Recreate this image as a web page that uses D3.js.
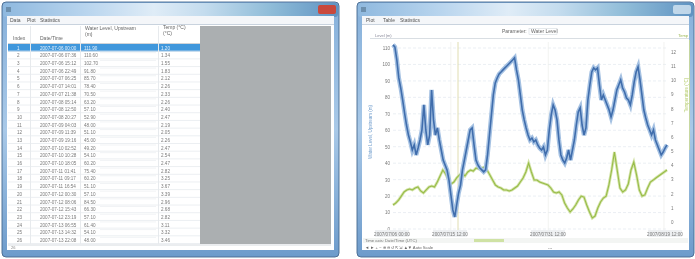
<!DOCTYPE html>
<html><head><meta charset="utf-8">
<script src="https://cdn.jsdelivr.net/npm/d3@7"></script>
<style>html,body{margin:0;padding:0;background:#fff;overflow:hidden}text{font-family:"Liberation Sans",Arial,sans-serif}</style>
</head><body><svg id="c" width="695" height="259"></svg>
<script>
// ---------- data ----------
const levelValues = [111.9,110.6,102.7,91.8,85.7,78.4,70.5,63.2,57.1,52.9,48.0,51.1,45.0,49.2,54.1,60.2,75.4,60.2,51.1,57.1,84.5,66.3,57.1,61.4,54.1,48.0,41.9,38.9,35.9,29.8,20.7,11.6,7.3,14.6,21.9,26.7,35.9,41.9,48.0,54.1,60.2,61.4,51.1,41.9,38.9,37.1,35.9,34.7,35.9,45.0,57.1,69.3,81.5,88.8,91.8,94.2,95.4,96.7,97.9,99.1,100.3,101.5,102.7,104.0,96.7,90.6,81.5,72.3,66.3,61.4,57.1,54.1,55.3,52.9,54.1,51.1,49.2,48.0,49.8,45.0,48.0,60.2,69.3,75.4,72.3,66.3,54.1,45.0,41.9,40.1,43.2,48.0,41.9,48.0,54.1,63.2,71.1,73.6,63.2,57.1,61.4,78.4,87.5,95.4,97.9,96.7,97.9,87.5,78.4,81.5,78.4,75.4,72.3,68.1,72.3,78.4,84.5,87.5,90.6,85.7,83.3,79.6,78.4,75.4,81.5,89.4,95.4,98.5,90.6,81.5,72.3,67.5,63.2,60.2,57.1,60.2,54.1,51.1,48.0,45.0,46.8,49.2,51.1];
const tempValues = [1.20,1.34,1.55,1.83,2.12,2.26,2.33,2.26,2.40,2.47,2.19,2.05,2.26,2.47,2.54,2.47,2.82,3.25,3.67,3.39,2.96,2.68,2.82,3.11,3.32,3.46,3.25,3.53,3.67,3.60,3.81,3.74,3.81,3.88,3.67,3.32,2.96,2.61,2.47,2.40,2.26,2.26,2.19,2.26,2.40,2.54,2.82,3.11,3.53,4.16,3.53,2.96,2.96,2.82,2.75,2.68,2.61,2.40,2.12,2.05,2.12,1.91,1.34,0.99,0.71,0.92,1.20,1.55,1.83,1.76,1.20,0.71,0.28,0.42,0.99,1.41,1.69,1.83,2.61,3.67,4.94,3.67,2.40,2.12,2.26,2.68,3.67,4.23,3.32,2.26,1.83,1.91,2.40,2.82,2.96,3.11,3.25,3.39,3.53,3.67];
const leftTicks = [0,10,20,30,40,50,60,70,80,90,100,110];
const rightTicks = [0,1,2,3,4,5,6,7,8,9,10,11,12];
const startTime = new Date(2007,6,6,0,0);
const endTime = new Date(2007,7,20,0,0);
const xTickTimes = [new Date(2007,6,6,0,0), new Date(2007,6,15,12,0), new Date(2007,6,31,12,0), new Date(2007,7,19,12,0)];
const tableRows = 26;
const leftTabs = ["Data","Plot","Statistics"];
const rightTabs = ["Plot","Table","Statistics"];

const svg = d3.select("#c");
const defs = svg.append("defs");
const blur = defs.append("filter").attr("id","bl").attr("x","-5%").attr("y","-5%").attr("width","110%").attr("height","110%");
blur.append("feGaussianBlur").attr("stdDeviation",0.6);
function lg(id, stops, x2, y2){const g=defs.append("linearGradient").attr("id",id).attr("x1",0).attr("y1",0).attr("x2",x2).attr("y2",y2);
 stops.forEach(s=>g.append("stop").attr("offset",s[0]).attr("stop-color",s[1]));}
lg("frame",[[0,"#8fb9df"],[0.25,"#b9d5ee"],[0.45,"#dfecf7"],[0.6,"#c4dcee"],[0.8,"#8fbcd8"],[1,"#5f93c2"]],1,0);
lg("frameV",[[0,"#86b0da"],[0.5,"#a9c9e8"],[1,"#6d9bcb"]],0,1);
const root = svg.append("g").attr("filter","url(#bl)");

const fmtT = d3.timeFormat("%Y-%m-%d %H:%M");
const dt = (endTime - startTime);
const tOf = (i,n)=> new Date(+startTime + dt*i/(n-1));

function windowFrame(x,y,w,h,active){
  const g=root.append("g");
  g.append("rect").attr("x",x).attr("y",y).attr("width",w).attr("height",h).attr("rx",4).attr("fill","url(#frameV)").attr("stroke","#46698f").attr("stroke-width",0.9);
  g.append("rect").attr("x",x+1).attr("y",y+1).attr("width",w-2).attr("height",14).attr("rx",3).attr("fill","url(#frame)");
  g.append("rect").attr("x",x+4).attr("y",y+5).attr("width",5).attr("height",5).attr("fill","#5d7e99").attr("opacity",0.7);
  if(active){g.append("rect").attr("x",x+w-21).attr("y",y+3).attr("width",18).attr("height",9).attr("rx",2).attr("fill","#c9493c");}
  else{g.append("rect").attr("x",x+w-21).attr("y",y+3).attr("width",18).attr("height",9).attr("rx",2).attr("fill","#d6e6f2").attr("opacity",0.8);}
  return g;
}

// ---------- left window (table) ----------
windowFrame(2,2,337,255,true);
root.append("rect").attr("x",7).attr("y",16).attr("width",327).attr("height",234).attr("fill","#fff");
root.append("rect").attr("x",7).attr("y",16).attr("width",327).attr("height",8).attr("fill","#f4f6f9");
leftTabs.forEach((t,i)=>root.append("text").attr("x",[10,27,40][i]).attr("y",22).attr("font-size",5).attr("fill","#555").text(t));
root.append("line").attr("x1",7).attr("x2",334).attr("y1",24.5).attr("y2",24.5).attr("stroke","#c9d3de");
root.append("rect").attr("x",200).attr("y",26).attr("width",131).attr("height",218).attr("fill","#abafb1");
root.append("line").attr("x1",8).attr("x2",331).attr("y1",245).attr("y2",245).attr("stroke","#d6dbe0");
root.append("text").attr("x",11).attr("y",249).attr("font-size",4).attr("fill","#888").text("26");
const hdr = root.append("g").attr("font-size",5).attr("fill","#666");
hdr.append("text").attr("x",13).attr("y",40).text("Index");
hdr.append("text").attr("x",40).attr("y",40).text("Date/Time");
hdr.append("text").attr("x",85).attr("y",30).text("Water Level, Upstream");
hdr.append("text").attr("x",85).attr("y",36).text("(m)");
hdr.append("text").attr("x",163).attr("y",29).text("Temp (°C)");
hdr.append("text").attr("x",163).attr("y",35).text("(°C)");
root.append("line").attr("x1",8).attr("x2",200).attr("y1",43.5).attr("y2",43.5).attr("stroke","#d0d4d8");
const rowY = d3.scaleLinear().domain([0,tableRows]).range([44,244]);
const rows = root.append("g");
d3.range(tableRows).forEach(i=>{
  const y0=rowY(i), y1=rowY(i+1), sel=i===0;
  if(sel) rows.append("rect").attr("x",8).attr("y",y0).attr("width",192).attr("height",y1-y0).attr("fill","#3f97dc");
  rows.append("line").attr("x1",8).attr("x2",200).attr("y1",y1-0.5).attr("y2",y1-0.5).attr("stroke","#eceff2");
  const c = sel?"#e8f2fb":"#7a7a7a";
  const ty = y1-2;
  rows.append("text").attr("x",17).attr("y",ty).attr("font-size",4.6).attr("fill",c).text(i+1);
  rows.append("text").attr("x",40).attr("y",ty).attr("font-size",4.6).attr("fill",c).text(fmtT(tOf(i,levelValues.length)));
  rows.append("text").attr("x",84).attr("y",ty).attr("font-size",4.6).attr("fill",c).text(levelValues[i].toFixed(2));
  rows.append("text").attr("x",161).attr("y",ty).attr("font-size",4.6).attr("fill",c).text(tempValues[i].toFixed(2));
  if(!sel) rows.append("line").attr("x1",100).attr("x2",156).attr("y1",y0+1).attr("y2",y0+1).attr("stroke","#f1f3f5");
});
[30,80,158].forEach(x=>rows.append("line").attr("x1",x+0.5).attr("x2",x+0.5).attr("y1",26).attr("y2",244).attr("stroke","#e7eaed"));

// ---------- right window (chart) ----------
windowFrame(357,2,337,255,false);
root.append("rect").attr("x",362).attr("y",16).attr("width",327).attr("height",234).attr("fill","#fff");
root.append("rect").attr("x",362).attr("y",16).attr("width",327).attr("height",8).attr("fill","#f4f6f9");
rightTabs.forEach((t,i)=>root.append("text").attr("x",[366,383,400][i]).attr("y",22).attr("font-size",5).attr("fill","#555").text(t));
root.append("line").attr("x1",362).attr("x2",689).attr("y1",24.5).attr("y2",24.5).attr("stroke","#c9d3de");
root.append("text").attr("x",502).attr("y",33).attr("font-size",5).attr("fill","#666").text("Parameter:");
root.append("rect").attr("x",529).attr("y",28.5).attr("width",28).attr("height",6).attr("fill","#fff").attr("stroke","#ccd3da").attr("stroke-width",0.5);
root.append("text").attr("x",531).attr("y",33).attr("font-size",5).attr("fill","#666").text("Water Level");
root.append("line").attr("x1",370).attr("x2",689).attr("y1",38.5).attr("y2",38.5).attr("stroke","#d9dee3");
root.append("text").attr("x",375).attr("y",37).attr("font-size",4).attr("fill","#889").text("Level (m)");
root.append("text").attr("x",688).attr("y",37).attr("text-anchor","end").attr("font-size",4).attr("fill","#9ab650").text("Temp");

const x = d3.scaleTime().domain([startTime,endTime]).range([393,667]);
const yL = d3.scaleLinear().domain([0,110]).range([229,48]);
const yR = d3.scaleLinear().domain([0,12]).range([222,52]);

const grid = root.append("g");
leftTicks.forEach(t=>grid.append("line").attr("x1",393).attr("x2",667).attr("y1",yL(t)).attr("y2",yL(t)).attr("stroke","#e2e8ef").attr("stroke-dasharray","3,2").attr("stroke-width",0.7));
xTickTimes.slice(1).forEach(t=>grid.append("line").attr("x1",x(t)).attr("x2",x(t)).attr("y1",42).attr("y2",230).attr("stroke","#eceeea").attr("stroke-width",0.7));
grid.append("line").attr("x1",458).attr("x2",458).attr("y1",42).attr("y2",230).attr("stroke","#dcd9a8").attr("stroke-width",0.9);

const axL = root.append("g").attr("transform","translate(392,0)").call(d3.axisLeft(yL).tickValues(leftTicks).tickSize(0).tickPadding(2));
axL.select(".domain").remove();
axL.selectAll("text").attr("font-size",4.5).attr("fill","#777").attr("font-family","Liberation Sans");
const axR = root.append("g").attr("transform","translate(669,0)").call(d3.axisRight(yR).tickValues(rightTicks).tickSize(0).tickPadding(2));
axR.select(".domain").remove();
axR.selectAll("text").attr("font-size",4.5).attr("fill","#777").attr("font-family","Liberation Sans");
root.append("text").attr("transform","translate(372,132) rotate(-90)").attr("text-anchor","middle").attr("font-size",4.5).attr("fill","#6f9ccc").text("Water Level, Upstream (m)");
root.append("text").attr("transform","translate(688,95) rotate(-90)").attr("text-anchor","middle").attr("font-size",4.5).attr("fill","#b5cc6a").text("Temperature (°C)");
root.append("line").attr("x1",689.5).attr("x2",689.5).attr("y1",40).attr("y2",150).attr("stroke","#cfdc8f").attr("stroke-width",0.8);

const fmtX = d3.timeFormat("%Y/%m/%d %H:%M");
xTickTimes.forEach((t,i)=>{
  const cx = [392,450,548,665][i];
  root.append("rect").attr("x",cx-17).attr("y",230).attr("width",34).attr("height",7).attr("fill","#eef0f2");
  root.append("text").attr("x",cx).attr("y",235.5).attr("text-anchor","middle").attr("font-size",4.6).attr("fill","#777").text(fmtX(t));
});

const tL = levelValues.map((v,i)=>[tOf(i,levelValues.length),v]);
const tR = tempValues.map((v,i)=>[tOf(i,tempValues.length),v]);
const lineL = d3.line().x(d=>x(d[0])).y(d=>yL(d[1]));
const lineR = d3.line().x(d=>x(d[0])).y(d=>yR(d[1]));
root.append("path").datum(tR).attr("d",lineR).attr("fill","none").attr("stroke","#d3e3a8").attr("stroke-width",2.8);
root.append("path").datum(tR).attr("d",lineR).attr("fill","none").attr("stroke","#98bc48").attr("stroke-width",1.1);
root.append("path").datum(tL).attr("d",lineL).attr("fill","none").attr("stroke","#a5c1e2").attr("stroke-width",4.5);
root.append("path").datum(tL).attr("d",lineL).attr("fill","none").attr("stroke","#3f6dac").attr("stroke-width",1.6);

root.append("rect").attr("x",363).attr("y",238).attr("width",325).attr("height",5).attr("fill","#f3f5f3");
root.append("text").attr("x",365).attr("y",242).attr("font-size",4.2).attr("fill","#777").text("Time axis: Date/Time (UTC)");
root.append("rect").attr("x",474).attr("y",239).attr("width",30).attr("height",3).attr("fill","#cfe2a4");
root.append("text").attr("x",365).attr("y",249).attr("font-size",4.2).attr("fill","#666").text("◄ ► + − ⊕ ⊖ ↺ ⇱ ⇲   ▲▼  Auto Scale");
root.append("text").attr("x",548).attr("y",249).attr("font-size",4.2).attr("fill","#888").text("---");
</script></body></html>
